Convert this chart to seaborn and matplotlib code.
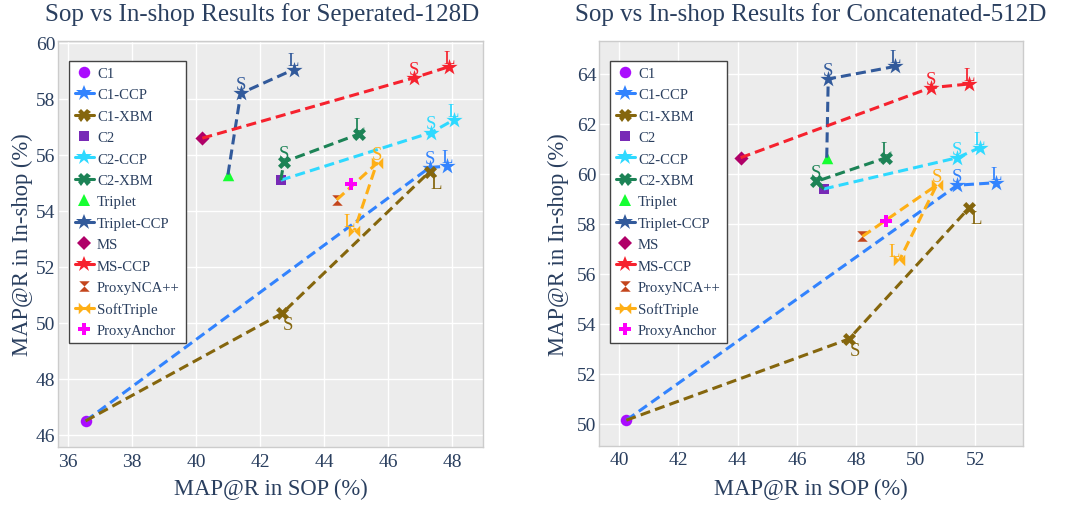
import matplotlib
matplotlib.use("Agg")
import matplotlib.pyplot as plt
from matplotlib.path import Path
from matplotlib.lines import Line2D
from matplotlib.font_manager import FontProperties
import pandas as pd
import seaborn as sns

# ---------------- data ----------------
baseline_names = ["C1", "C2", "Triplet", "MS", "ProxyNCA++", "ProxyAnchor"]
sep_base_sop = [36.55, 42.65, 41.00, 40.20, 44.40, 44.85]
sep_base_inshop = [46.50, 55.10, 55.30, 56.60, 54.40, 54.95]
cat_base_sop = [40.25, 46.90, 47.00, 44.10, 48.20, 49.00]
cat_base_inshop = [50.15, 59.40, 60.65, 60.65, 57.50, 58.10]

variant_names = ["C1-CCP", "C1-XBM", "C2-CCP", "C2-XBM", "Triplet-CCP", "MS-CCP", "SoftTriple"]
variant_from = ["C1", "C1", "C2", "C2", "Triplet", "MS", "ProxyNCA++"]
sep_small_sop = [47.30, 42.70, 47.35, 42.75, 41.40, 46.80, 45.65]
sep_small_inshop = [55.55, 50.35, 56.80, 55.75, 58.20, 58.75, 55.70]
sep_large_sop = [47.85, 47.30, 48.05, 45.10, 43.05, 47.90, 44.95]
sep_large_inshop = [55.60, 55.40, 57.25, 56.75, 59.05, 59.15, 53.30]
cat_small_sop = [51.40, 47.75, 51.40, 46.65, 47.05, 50.50, 50.70]
cat_small_inshop = [59.55, 53.40, 60.65, 59.70, 63.80, 63.45, 59.55]
cat_large_sop = [52.70, 51.80, 52.15, 49.00, 49.30, 51.80, 49.45]
cat_large_inshop = [59.65, 58.65, 61.05, 60.65, 64.30, 63.60, 56.55]

size_tags = ["S", "L"]
trace_order = ["C1", "C1-CCP", "C1-XBM", "C2", "C2-CCP", "C2-XBM", "Triplet",
               "Triplet-CCP", "MS", "MS-CCP", "ProxyNCA++", "SoftTriple", "ProxyAnchor"]

panel_titles = ["Sop vs In-shop Results for Seperated-128D",
                "Sop vs In-shop Results for Concatenated-512D"]
x_title = "MAP@R in SOP (%)"
y_title = "MAP@R in In-shop (%)"

# ---------------- styling ----------------
colors = {
    "C1": "#AA0DFE", "C1-CCP": "#3283FE", "C1-XBM": "#85660D",
    "C2": "#782AB6", "C2-CCP": "#2ED9FF", "C2-XBM": "#1C8356",
    "Triplet": "#16FF32", "Triplet-CCP": "#325A9B",
    "MS": "#B00068", "MS-CCP": "#F6222E",
    "ProxyNCA++": "#C4451C", "SoftTriple": "#FEAF16", "ProxyAnchor": "#FE00FA",
}

M, L, C = Path.MOVETO, Path.LINETO, Path.CLOSEPOLY
hourglass = Path([(-1, 1), (1, 1), (0, 0), (0, 0), (0, 0), (1, -1), (-1, -1), (0, 0)],
                 [M, L, L, C, M, L, L, C])
bowtie = Path([(-1, 1), (0, 0), (-1, -1), (0, 0), (1, 1), (1, -1), (0, 0), (0, 0)],
              [M, L, L, C, M, L, L, C])

markers = {
    "C1": ("o", 11.5), "C1-CCP": ("*", 17), "C1-XBM": ("X", 13),
    "C2": ("s", 10.5), "C2-CCP": ("*", 17), "C2-XBM": ("X", 13),
    "Triplet": ("^", 11.5), "Triplet-CCP": ("*", 17),
    "MS": ("D", 10), "MS-CCP": ("*", 17),
    "ProxyNCA++": (hourglass, 10.5), "SoftTriple": (bowtie, 11.5), "ProxyAnchor": ("P", 12.5),
}

# label placement per variant: (S position, L position)
label_pos = {"C1-XBM": ("bottom right", "bottom right"), "SoftTriple": ("top center", "top left")}

TXT = "#2a3f5f"
SERIF = ["Liberation Serif", "DejaVu Serif"]

sns.set_theme(style="darkgrid", rc={
    "axes.facecolor": "#ececec",
    "grid.color": "white",
    "grid.linewidth": 1.0,
    "axes.edgecolor": "#cccccc",
    "axes.linewidth": 1.0,
})
plt.rcParams["font.family"] = SERIF

fig = plt.figure(figsize=(10.67, 5.06), dpi=100)
W, H = 1067.0, 506.0

panels = [
    dict(base_x=sep_base_sop, base_y=sep_base_inshop,
         sx=sep_small_sop, sy=sep_small_inshop, lx=sep_large_sop, ly=sep_large_inshop,
         box=(58, 42, 483, 448), xlim=(35.69, 48.97), ylim=(45.57, 60.07),
         xticks=range(36, 49, 2), yticks=range(46, 61, 2),
         title_x=262.5, ylab_x=22, leg_x=69),
    dict(base_x=cat_base_sop, base_y=cat_base_inshop,
         sx=cat_small_sop, sy=cat_small_inshop, lx=cat_large_sop, ly=cat_large_inshop,
         box=(599.3, 41.7, 1023.3, 446.7), xlim=(39.34, 53.62), ylim=(49.13, 65.33),
         xticks=range(40, 53, 2), yticks=range(50, 65, 2),
         title_x=811, ylab_x=558, leg_x=610),
]

LW = 2.2
DASH = (0, (3.3, 1.7))


def place_label(ax, x, y, text, pos, color):
    if pos == "top center":
        kw = dict(xytext=(0, 3.0), ha="center", va="baseline")
    elif pos == "top left":
        kw = dict(xytext=(0.5, 3.0), ha="right", va="baseline")
    else:  # bottom right
        kw = dict(xytext=(0.5, -2.0), ha="left", va="top")
    ax.annotate(text, (x, y), textcoords="offset points", color=color,
                fontsize=13.5, family=SERIF, zorder=200, **kw)


for p_i, p in enumerate(panels):
    x0, y0, x1, y1 = p["box"]
    ax = fig.add_axes([x0 / W, 1 - y1 / H, (x1 - x0) / W, (y1 - y0) / H])

    base = pd.DataFrame({"method": baseline_names, "sop": p["base_x"], "inshop": p["base_y"]})
    base = base.set_index("method")

    for z, name in enumerate(trace_order):
        zb = 10 + z * 3
        col = colors[name]
        mk, ms = markers[name]
        if name in baseline_names:
            pt = base.loc[[name]].reset_index()
            sns.scatterplot(data=pt, x="sop", y="inshop", ax=ax, marker=mk,
                            s=(ms * 0.72) ** 2, color=col, linewidth=0,
                            zorder=zb + 1, legend=False)
            continue
        k = variant_names.index(name)
        src = variant_from[k]
        path = pd.DataFrame({
            "sop": [base.loc[src, "sop"], p["sx"][k], p["lx"][k]],
            "inshop": [base.loc[src, "inshop"], p["sy"][k], p["ly"][k]],
            "tag": ["base"] + size_tags,
        })
        sns.lineplot(data=path, x="sop", y="inshop", ax=ax, sort=False, estimator=None,
                     color=col, linewidth=LW, linestyle=DASH, zorder=zb,
                     legend=False)
        pts = path[path["tag"] != "base"]
        sns.scatterplot(data=pts, x="sop", y="inshop", ax=ax, marker=mk,
                        s=(ms * 0.72) ** 2, color=col, linewidth=0,
                        zorder=zb + 1, legend=False)
        spos = label_pos.get(name, ("top center", "top center"))
        for (_, r), pos in zip(pts.iterrows(), spos):
            place_label(ax, r["sop"], r["inshop"], r["tag"], pos, col)

    ax.set_xlim(*p["xlim"])
    ax.set_ylim(*p["ylim"])
    ax.set_xticks(list(p["xticks"]))
    ax.set_yticks(list(p["yticks"]))
    ax.tick_params(length=0, labelsize=14, labelcolor=TXT)
    ax.tick_params(axis="x", pad=4)
    ax.tick_params(axis="y", pad=2)
    for lab in ax.get_xticklabels() + ax.get_yticklabels():
        lab.set_family(SERIF)
    for sp in ax.spines.values():
        sp.set_color("#cccccc")
        sp.set_linewidth(1.0)
    ax.grid(True, color="white", linewidth=1.0)
    ax.set_axisbelow(True)

    ax.set_xlabel(x_title, fontsize=16.3, color=TXT, family=SERIF)
    ax.set_ylabel(y_title, fontsize=16.3, color=TXT, family=SERIF)
    ax.xaxis.label.set_va("baseline")
    ax.xaxis.set_label_coords(0.5, -(495 - y1) / (y1 - y0))
    ax.yaxis.label.set_va("center")
    ax.yaxis.set_label_coords((p["ylab_x"] - x0) / (x1 - x0), 0.5)

    fig.text(p["title_x"] / W, 1 - 20.7 / H, panel_titles[p_i], ha="center",
             va="baseline", fontsize=18, color=TXT, family=SERIF)

    handles = []
    for name in trace_order:
        mk, ms = markers[name]
        ls = "none" if name in baseline_names else "-"
        handles.append(Line2D([], [], color=colors[name], marker=mk, markersize=ms * 0.72,
                              markeredgewidth=0, linestyle=ls, linewidth=LW, label=name))
    leg_prop = FontProperties(family=SERIF, size=10.6)
    leg = ax.legend(handles=handles, loc="upper left",
                    bbox_to_anchor=((p["leg_x"] - x0) / (x1 - x0), 1 - (61.7 - y0) / (y1 - y0)),
                    borderaxespad=0, frameon=True, fancybox=False, framealpha=1,
                    facecolor="white", edgecolor="#444444", prop=leg_prop,
                    handlelength=1.3, handletextpad=0.2, labelspacing=0.55,
                    borderpad=0.4)
    leg.get_frame().set_linewidth(1.0)
    leg.set_zorder(300)
    for t in leg.get_texts():
        t.set_color(TXT)
        t.set_fontproperties(leg_prop)

fig.savefig("out.png", dpi=100, facecolor="white")
